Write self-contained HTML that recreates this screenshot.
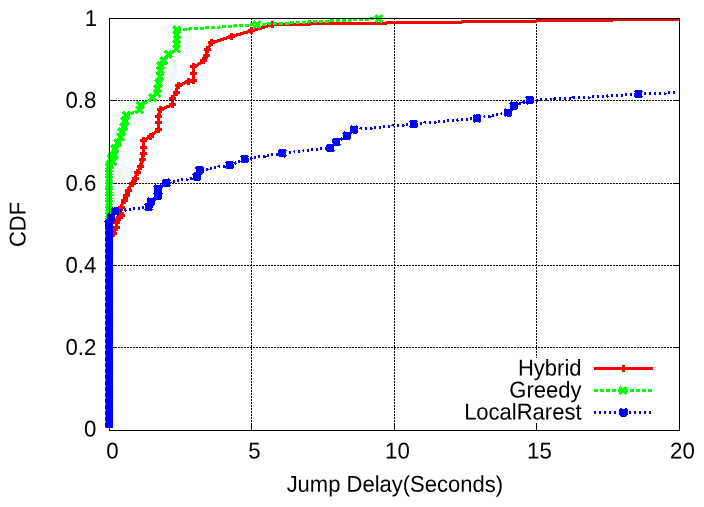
<!DOCTYPE html>
<html lang="en"><head><meta charset="utf-8"><title>CDF of Jump Delay</title>
<style>html,body{margin:0;padding:0;background:#fff;}body{width:704px;height:507px;overflow:hidden;}svg{display:block;}text{font-family:"Liberation Sans",Arial,Helvetica,sans-serif;font-size:22px;fill:#000;}</style>
</head><body>
<svg width="704" height="507" viewBox="0 0 704 507">
<rect x="0" y="0" width="704" height="507" fill="#fff"/>
<g stroke="#000" stroke-width="1" fill="none" shape-rendering="crispEdges">
<g stroke-dasharray="2 1">
<line x1="251.5" y1="18" x2="251.5" y2="431"/>
<line x1="394.5" y1="18" x2="394.5" y2="431"/>
<line x1="536.5" y1="18" x2="536.5" y2="358"/>
<line x1="109" y1="100.5" x2="680" y2="100.5"/>
<line x1="109" y1="183.5" x2="680" y2="183.5"/>
<line x1="109" y1="265.5" x2="680" y2="265.5"/>
<line x1="109" y1="347.5" x2="680" y2="347.5"/>
</g>
<line x1="251.5" y1="431" x2="251.5" y2="423"/>
<line x1="394.5" y1="431" x2="394.5" y2="423"/>
<line x1="536.5" y1="431" x2="536.5" y2="423"/>
<line x1="109" y1="100.5" x2="117" y2="100.5"/>
<line x1="680" y1="100.5" x2="673" y2="100.5"/>
<line x1="109" y1="183.5" x2="117" y2="183.5"/>
<line x1="680" y1="183.5" x2="673" y2="183.5"/>
<line x1="109" y1="265.5" x2="117" y2="265.5"/>
<line x1="680" y1="265.5" x2="673" y2="265.5"/>
<line x1="109" y1="347.5" x2="117" y2="347.5"/>
<line x1="680" y1="347.5" x2="673" y2="347.5"/>
</g>
<defs>
<path id="mp" d="M-3.5 0H3.5M0 -3.5V3.5" stroke-width="3" fill="none"/>
<path id="mx" d="M-3.5 -3.5L3.5 3.5M-3.5 3.5L3.5 -3.5" stroke-width="3" fill="none"/>
<path id="mxs" d="M-3 -3L3 3M-3 3L3 -3" stroke-width="3" fill="none"/>
<path id="ms" d="M-3.5 -3.5L3.5 3.5M-3.5 3.5L3.5 -3.5M-4 0H4M0 -4V4" stroke-width="3" fill="none"/>
<clipPath id="cp"><rect x="100" y="14" width="584" height="414"/></clipPath>
</defs>
<g shape-rendering="crispEdges" clip-path="url(#cp)">
<path d="M110.5 428V238L110.5 238V236.75H111.5V235.5H112.5V235.5L112.5 235.5V233H113.5V233L113.5 233V232.05H114.5V229.2H115.5V227.3H116.5V227.3L116.5 227.3V222.3L116.5 222.3V220.43H117.5V219.5L117.3 219.5H118.42V218.5H119.55V217.5H120.67V216.5H121.8V215.5H121.8L121.5 215.5V213H120.5V213L120.5 213V207.7H121.5V207.7L121.5 207.7V204.61H122.5V202.56H123.5V200.5H124.5V200.5L124.5 200.5V197.75H125.5V195.92H126.5V195L126.5 195V192.8H127.5V190.6H128.5V190.6L128.5 190.6V188.64H129.5V186.69H130.5V184.73H131.5V183.75H132.5V183.75L132.5 183.75V181.83H133.5V179.92H134.5V178H135.5V178L135.5 178V175.25H136.5V173.42H137.5V172.5L137.5 172.5V171.42H138.5V169.25H139.5V167.08H140.5V166L140.5 166V164.11H141.5V159.4H142.5V159.4L142.5 159.4V153H143.5V153L143.5 153V147L143.5 147V140.6L143 140.5H144V139.5H146V138.5H147V137.5H149V136.5H150L150 136.5H150.97V135.5H151.94V134.5H152.92V133.5H154.86V132.5H155.83V131.5H156.81V130.5H158.75V129.5H158.75L158.5 129.4V122.5L158.5 122.5V116L158.5 116V114.11H159.5V109.4H160.5V109.4L160 109.5H161V108.5H164V107.5H166V106.5H169V105.5H171V104.5H172L172.5 104.4V98.75L172.5 98.75V96.67H173.5V95.62H174.5V93.54H175.5V92.5H176.5V92.5L176.5 92.5V88.56H177.5V85.6H178.5V85.6L178 85.5H180V84.5H182V83.5H184V82.5H186V81.5H188L188 81.5H188.96V80.5H193.75L193.5 80V73.75L193.5 73.75V66.9L193.75 66.5H195.75V65.5H197.75V64.5H198.75V63.5H200.75V62.5H201.75V61.5H203.75V60.5H203.75L203.5 60.6V59.6H204.5V57.6H205.5V55.6H206.5V55.6L206.5 55.6V51.47H207.5V49.4L207.5 49.4V48.41H208.5V46.44H209.5V45.46H210.5V43.49H211.5V42.5L211.9 42.5H213.94V41.5H217.01V40.5H220.07V39.5H223.13V38.5H226.19V37.5H229.26V36.5H231.3L231.3 36.5H232.31V35.5H236.35V34.5H240.39V33.5H243.42V32.5H247.46V31.5H250.49V30.5H251.5L251.5 30.5H254.53V29.5H257.56V28.5H261.6V27.5H264.62V26.5H267.65V25.5H271.69V24.5H272.7L272.7 24.5H310.68V23.5H386.64V22.5H461.61V21.5H536.57V20.5H612.53V19.5H679.5" stroke="#f00" stroke-width="3" fill="none" stroke-linejoin="bevel"/>
<g stroke="#f00"><use href="#mp" x="113.6" y="233"/><use href="#mp" x="116" y="227.3"/><use href="#mp" x="116.8" y="222.3"/><use href="#mp" x="117.3" y="219.5"/><use href="#mp" x="121.8" y="215.5"/><use href="#mp" x="120.5" y="213"/><use href="#mp" x="121" y="207.7"/><use href="#mp" x="124" y="200.5"/><use href="#mp" x="126.4" y="195"/><use href="#mp" x="128" y="190.6"/><use href="#mp" x="132" y="183.75"/><use href="#mp" x="135" y="178"/><use href="#mp" x="137.5" y="172.5"/><use href="#mp" x="140.6" y="166"/><use href="#mp" x="142" y="159.4"/><use href="#mp" x="143" y="153"/><use href="#mp" x="143" y="147"/><use href="#mp" x="143" y="140.6"/><use href="#mp" x="150" y="136"/><use href="#mp" x="158.75" y="129.4"/><use href="#mp" x="158.75" y="122.5"/><use href="#mp" x="158.75" y="116"/><use href="#mp" x="160" y="109.4"/><use href="#mp" x="172" y="104.4"/><use href="#mp" x="172" y="98.75"/><use href="#mp" x="176" y="92.5"/><use href="#mp" x="178" y="85.6"/><use href="#mp" x="188" y="81"/><use href="#mp" x="193.75" y="80"/><use href="#mp" x="193.75" y="73.75"/><use href="#mp" x="193.75" y="66.9"/><use href="#mp" x="203.75" y="60.6"/><use href="#mp" x="206" y="55.6"/><use href="#mp" x="207.5" y="49.4"/><use href="#mp" x="211.9" y="42.5"/><use href="#mp" x="231.3" y="36.2"/><use href="#mp" x="251.5" y="30.7"/><use href="#mp" x="272.7" y="24.5"/></g>
<path d="M109.5 428V163L109.5 163V161H110.5V159H111.5V157H112.5V156L112.5 156V154H113.5V151H114.5V149H115.5V149L115.5 149V147H116.5V145H117.5V143H118.5V143L118.5 143V140H119.5V138H120.5V137L120.5 137V135H121.5V132H122.5V132L122.5 132V129H123.5V127H124.5V127L124.5 127V121H125.5V121L125.5 121V117.33H126.5V115.5L126.5 115.5H128.5V114.5H130.5V113.5H132.5V112.5H135.5V111.5H137.5V110.5H139.5L139.5 110V107.75H140.5V105.5L140.5 105.5H141.52V104.5H143.55V103.5H144.57V102.5H146.6V101.5H148.63V100.5H149.65V99.5H151.68V98.5H152.7V97.5H152.7L152.5 97.8V96.67H153.5V95.55H154.5V94.42H155.5V93.3H156.5V93.3L156.5 93.3V91.46H157.5V88.7L157.5 88.7V86.54H158.5V83.3L158.5 83.3V81.36H159.5V76.5H160.5V76.5L160.5 76.5V70.5L160.5 70.5V66L160.5 66V65.08H161.5V63.25H162.5V61.42H163.5V60.5L163.5 60.5V59.47H164.5V58.43H165.5V56.37H166.5V55.33H167.5V54.3H168.5V54.3L168.2 54.5H169.26V53.5H170.32V52.5H172.45V51.5H173.51V50.5H175.64V49.5H176.7L176.5 49V29.8L176.7 29.5H189.75V28.5H204.81V27.5H219.86V26.5H234.92V25.5H249.97V24.5H257L257 24.5H267.96V23.5H288.9V22.5H308.83V21.5H329.76V20.5H350.69V19.5H370.63V18.5H378.6" stroke="#0f0" stroke-width="3" fill="none" stroke-dasharray="4 2" stroke-linejoin="bevel"/>
<path d="M109 222V166" stroke="#0f0" stroke-width="3" fill="none"/>
<g stroke="#0f0"><use href="#mxs" x="109" y="221"/><use href="#mxs" x="109" y="215"/><use href="#mxs" x="109" y="209"/><use href="#mxs" x="109" y="203"/><use href="#mxs" x="109" y="197"/><use href="#mxs" x="109" y="191"/><use href="#mxs" x="109" y="185"/><use href="#mxs" x="109" y="179"/><use href="#mxs" x="109" y="173"/><use href="#mxs" x="109" y="167"/><use href="#mx" x="114.5" y="155"/><use href="#mx" x="113" y="161.5"/><use href="#mx" x="111.5" y="158.5"/><use href="#mx" x="110" y="165"/><use href="#mx" x="112.5" y="156"/><use href="#mx" x="115" y="149"/><use href="#mx" x="118" y="143"/><use href="#mx" x="120.5" y="137"/><use href="#mx" x="122" y="132"/><use href="#mx" x="124" y="127"/><use href="#mx" x="125" y="121"/><use href="#mx" x="126.5" y="115.5"/><use href="#mx" x="139.5" y="110"/><use href="#mx" x="140.5" y="105.5"/><use href="#mx" x="152.7" y="97.8"/><use href="#mx" x="156.8" y="93.3"/><use href="#mx" x="157.7" y="88.7"/><use href="#mx" x="158.6" y="83.3"/><use href="#mx" x="160" y="76.5"/><use href="#mx" x="160.5" y="70.5"/><use href="#mx" x="160.9" y="66"/><use href="#mx" x="163.6" y="60.5"/><use href="#mx" x="168.2" y="54.3"/><use href="#mx" x="176.7" y="49"/><use href="#mx" x="176.7" y="49"/><use href="#mx" x="176.7" y="44.2"/><use href="#mx" x="176.7" y="39.4"/><use href="#mx" x="176.7" y="34.6"/><use href="#mx" x="176.7" y="29.8"/><use href="#mx" x="257" y="24.5"/><use href="#mx" x="378.6" y="18.6"/></g>
<path d="M109.5 428V216L109 216.5H110V215.5H111V214.5H112V213.5H113V212.5H115V211.5H115L115 211.5H117.96V210.5H125.87V209.5H132.79V208.5H140.69V207.5H147.61V206.5H148.6L148.5 206.8V205.8H149.5V203.8H150.5V201.8H151.5V201.8L151 201.5H152V200.5H154V199.5H155V198.5H156V197.5H157V196.5H158L158.5 196V189L158 189.5H159.05V188.5H160.1V187.5H161.15V186.5H162.2V185.5H164.3V184.5H165.35V183.5H166.4V182.5H166.4L166.4 182.5H170.35V181.5H176.27V180.5H181.21V179.5H187.13V178.5H192.06V177.5H197L197.5 177V174.17H198.5V171.34H199.5V170.4L199.5 170.5H202.51V169.5H207.53V168.5H213.55V167.5H218.56V166.5H224.58V165.5H229.6L229.6 165.5H230.59V164.5H232.58V163.5H235.56V162.5H237.55V161.5H240.53V160.5H242.51V159.5H244.5L244.5 159.5H245.5V158.5H251.48V157.5H258.46V156.5H265.44V155.5H271.43V154.5H278.41V153.5H282.4L282.4 153.5H285.4V152.5H294.4V151.5H303.4V150.5H311.4V149.5H320.4V148.5H329.4V147.5H330.4L330.4 147.5H331.4V146.5H332.4V145.5H333.4V144.5H334.4V143.5H335.4V142.5H336.4V141.5H336.4L336.4 141.5H338.46V140.5H340.52V139.5H341.55V138.5H343.61V137.5H345.67V136.5H346.7V135.5H346.7L346.7 135.5H347.74V134.5H349.83V133.5H350.87V132.5H351.91V131.5H352.96V130.5H354V129.5H354L354 129.5H360.95V128.5H371.88V127.5H381.81V126.5H392.74V125.5H403.67V124.5H413.6L413.6 124.5H414.61V123.5H424.67V122.5H435.74V121.5H446.81V120.5H457.88V119.5H468.95V118.5H477L477 118.5H479.01V117.5H484.05V116.5H490.08V115.5H496.12V114.5H501.15V113.5H507.19V112.5H508.2L508.5 112.7V111.74H509.5V109.83H510.5V108.87H511.5V107.91H512.5V106.96H513.5V106H514.5V106L514 106.5H514.98V105.5H516.92V104.5H519.85V103.5H522.77V102.5H525.7V101.5H528.62V100.5H529.6L529.6 100.5H537.59V99.5H554.55V98.5H572.52V97.5H589.49V96.5H607.46V95.5H624.43V94.5H638.4L638.4 94.5H643.41V93.5H665.47V92.5H677.5" stroke="#00f" stroke-width="3" fill="none" stroke-dasharray="2 3" stroke-linejoin="bevel"/>
<rect x="105" y="224" width="8" height="204" fill="#00f"/>
<path d="M105.5 223V428" stroke="#0f0" stroke-width="1" stroke-dasharray="2 4" fill="none"/>
<g stroke="#00f"><use href="#ms" x="109" y="224"/><use href="#ms" x="111" y="217.5"/><use href="#ms" x="115" y="211.4"/><use href="#ms" x="148.6" y="206.8"/><use href="#ms" x="151" y="201.8"/><use href="#ms" x="158" y="196"/><use href="#ms" x="158" y="189"/><use href="#ms" x="166.4" y="182.7"/><use href="#ms" x="197" y="177"/><use href="#ms" x="199.5" y="170.4"/><use href="#ms" x="229.6" y="165"/><use href="#ms" x="244.5" y="159"/><use href="#ms" x="282.4" y="153.3"/><use href="#ms" x="330.4" y="147.8"/><use href="#ms" x="336.4" y="141.8"/><use href="#ms" x="346.7" y="135.8"/><use href="#ms" x="354" y="129.6"/><use href="#ms" x="413.6" y="124"/><use href="#ms" x="477" y="118.2"/><use href="#ms" x="508.2" y="112.7"/><use href="#ms" x="514" y="106"/><use href="#ms" x="529.6" y="100.4"/><use href="#ms" x="638.4" y="94.2"/></g>
</g>
<g shape-rendering="crispEdges" fill="none" stroke-width="3">
<path d="M594 368.5H653" stroke="#f00"/><use href="#mp" x="623.5" y="368.5" stroke="#f00"/>
<path d="M594 390.5H653" stroke="#0f0" stroke-dasharray="4 2"/><use href="#mx" x="623" y="390.5" stroke="#0f0"/>
<path d="M594 412.5H653" stroke="#00f" stroke-dasharray="2 3"/><use href="#ms" x="623.5" y="412.5" stroke="#00f"/>
</g>
<rect x="109.5" y="18.5" width="570.0" height="412.0" fill="none" stroke="#000" stroke-width="1" shape-rendering="crispEdges"/>
<g text-anchor="end">
<text transform="translate(97.0 26) rotate(0.05) scale(1.01 1.04)">1</text>
<text transform="translate(96.3 107.7) rotate(0.05) scale(1.01 1.04)">0.8</text>
<text transform="translate(96.3 190.7) rotate(0.05) scale(1.01 1.04)">0.6</text>
<text transform="translate(96.3 272.7) rotate(0.05) scale(1.01 1.04)">0.4</text>
<text transform="translate(96.3 354.9) rotate(0.05) scale(1.01 1.04)">0.2</text>
<text transform="translate(96.3 436.6) rotate(0.05) scale(1.01 1.04)">0</text>
<text transform="translate(581.5 375.5) rotate(0.05) scale(1 1.04)">Hybrid</text>
<text transform="translate(581.5 397.5) rotate(0.05) scale(1 1.04)">Greedy</text>
<text transform="translate(581.5 419.5) rotate(0.05) scale(1 1.04)">LocalRarest</text>
</g>
<g text-anchor="middle">
<text transform="translate(112.4 458.5) rotate(0.05) scale(1.01 1.04)">0</text>
<text transform="translate(254.4 458.5) rotate(0.05) scale(1.01 1.04)">5</text>
<text transform="translate(397.4 458.5) rotate(0.05) scale(1.01 1.04)">10</text>
<text transform="translate(539.4 458.5) rotate(0.05) scale(1.01 1.04)">15</text>
<text transform="translate(682.4 458.5) rotate(0.05) scale(1.01 1.04)">20</text>
<text transform="translate(394.8 491.8) rotate(0.05) scale(1 1.04)">Jump Delay(Seconds)</text>
<text transform="translate(25.6 224.5) rotate(-90.05) scale(1 1.04)">CDF</text>
</g>
</svg></body></html>
